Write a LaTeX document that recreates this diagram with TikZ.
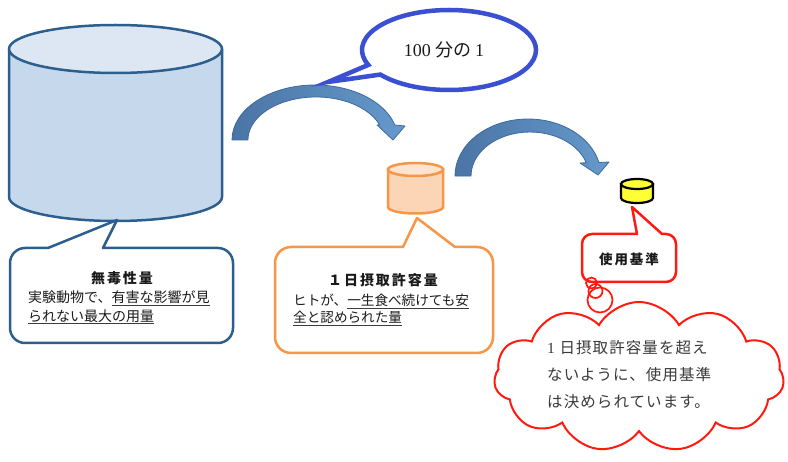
\documentclass[tikz,border=0pt]{standalone}
\usepackage{fontspec}
\newfontfamily\jp{Noto Sans CJK JP}
\newfontfamily\jpt{Noto Sans CJK JP}[LetterSpace=14]
\newfontfamily\jpc{Noto Sans CJK JP}[LetterSpace=7]
\newfontfamily\lser{Liberation Serif}
\usetikzlibrary{shapes.symbols,shapes.callouts}
\definecolor{cylblue}{HTML}{2D5F8E}
\definecolor{cylbody}{HTML}{C6D8EB}
\definecolor{cyltop}{HTML}{DDE7F3}
\definecolor{arrL}{HTML}{4A75A6}
\definecolor{arrR}{HTML}{6699CC}
\definecolor{arrD}{HTML}{3E6A98}
\definecolor{ellblue}{HTML}{3A4FD2}
\definecolor{orng}{HTML}{F79646}
\definecolor{orbody}{HTML}{FBD5B5}
\definecolor{ortop}{HTML}{FDE4D0}
\definecolor{ylw}{HTML}{FFFF33}
\definecolor{rd}{HTML}{FF1A0F}
\definecolor{txt}{HTML}{1A1A1A}
\definecolor{ctxt}{HTML}{3A3A3A}
\newcommand\ulx[1]{\setbox0\hbox{#1}\rlap{\color{txt!85}\rule[-3.2pt]{\wd0}{1.1pt}}\box0}
% cylinder: x1, x2, top centre y, bottom centre y, ry, body style, top style
\newcommand\mycyl[7]{%
  \filldraw[#6] (#1,#3) -- (#1,#4) arc[start angle=180,end angle=0,x radius={(#2-#1)/2},y radius=#5] -- (#2,#3) -- cycle;
  \filldraw[#7] ({(#1+#2)/2},#3) ellipse[x radius={(#2-#1)/2},y radius=#5];}
% callout box: style, x1, y1, x2, y2, r, pointer left, pointer right, tip
\newcommand\mycallout[9]{%
  \filldraw[#1] (#2+#6,#3) -- (#7,#3) -- #9 -- (#8,#3) -- (#4-#6,#3)
    arc[start angle=-90,end angle=0,radius=#6] -- (#4,#5-#6)
    arc[start angle=0,end angle=90,radius=#6] -- (#2+#6,#5)
    arc[start angle=90,end angle=180,radius=#6] -- (#2,#3+#6)
    arc[start angle=180,end angle=270,radius=#6] -- cycle;}
\begin{document}
\begin{tikzpicture}[x=1pt,y=-1pt,
  cylline/.style={draw=cylblue,line width=2.5pt,line join=round},
  arrowshape/.style={draw=arrD,line width=0.8pt,left color=arrL,right color=arrR,line join=round},
  title/.style={font=\jpt\bfseries\fontsize{14}{16}\selectfont,text=txt,inner sep=0pt},
  body/.style={font=\jp\fontsize{14}{18.5}\selectfont,text=txt,align=left,anchor=west,inner sep=0pt}]
\useasboundingbox (0,0) rectangle (788,462);
\fill[white] (0,0) rectangle (788,462);

% big cylinder
\mycyl{9}{222}{49}{197}{24}{cylline,fill=cylbody}{cylline,fill=cyltop}
% callout 1
\mycallout{cylline,fill=white}{10}{248}{233}{343}{15}{48}{103}{(117,220)}
\node[title] (t1) at (122,278) {無毒性量};
\node[body] (b1) at (28,307.5) {実験動物で、\ulx{有害な影響が見}\\\ulx{られない最大の用量}};

% curved arrows
\path[arrowshape] (232,140) arc[start angle=-180,end angle=-15.8,x radius=83,y radius=55]
  -- (405,126) -- (393,140) -- (377,125) -- (379.7,125)
  arc[start angle=-20.4,end angle=-180,x radius=68,y radius=43] -- cycle;
\path[arrowshape] (455,176) arc[start angle=-180,end angle=-13.7,x radius=73,y radius=57]
  -- (609,162) -- (598,175) -- (580,163) -- (586.3,162.8)
  arc[start angle=-17.5,end angle=-180,x radius=59,y radius=44] -- cycle;

% ellipse callout
\node[ellipse callout,draw=ellblue,line width=4.5pt,fill=white,minimum width=174pt,minimum height=80pt,
  callout absolute pointer={(328,82)},callout pointer arc=16] (ell) at (449,50) {};
\node[font=\jp\fontsize{18}{18}\selectfont,text=txt] (et) at (444,50) {{\lser 100} 分の {\lser 1}};

% orange cylinder and callout 2
\mycyl{388}{443}{169.5}{207}{6.5}{draw=orng,line width=2.5pt,fill=orbody}{draw=orng,line width=2.5pt,fill=ortop}
\mycallout{draw=orng,line width=2.5pt,fill=white,line join=round}{275}{247}{493}{353}{16}{403}{455}{(417,218)}
\node[title] (t2) at (383,280) {１日摂取許容量};
\node[body,font=\jp\fontsize{13.6}{17}\selectfont] (b2) at (293,310) {ヒトが、\ulx{一生食べ続けても安}\\\ulx{全と認められた量}};

% yellow cylinder and callout 3
\mycyl{621}{653}{184}{198}{5}{draw=black,line width=2.2pt,fill=ylw}{draw=black,line width=2.2pt,fill=ylw}
\mycallout{draw=rd,line width=2.5pt,fill=white,line join=round}{582}{234}{676}{282}{10}{637}{662}{(632,207)}
\node[title,font=\jpt\bfseries\fontsize{13.5}{16}\selectfont] (t3) at (629,259) {使用基準};

% cloud
\node[cloud,cloud puffs=11,cloud puff arc=120,cloud ignores aspect,draw=rd,line width=2pt,fill=white,
  minimum width=290pt,minimum height=150pt] (cl) at (639,377) {};
\draw[rd,line width=1.7pt] (591.5,283) circle[radius=5.5];
\draw[rd,line width=1.7pt] (595.5,291) circle[radius=7];
\draw[rd,line width=1.7pt] (600,300) circle[radius=12.5];
\node[body,font=\jpc\fontsize{15.5}{27}\selectfont,text=ctxt] (ct) at (547,375)
  {{\lser 1} 日摂取許容量を超え\\ないように、使用基準\\は決められています。};
\end{tikzpicture}
\end{document}
